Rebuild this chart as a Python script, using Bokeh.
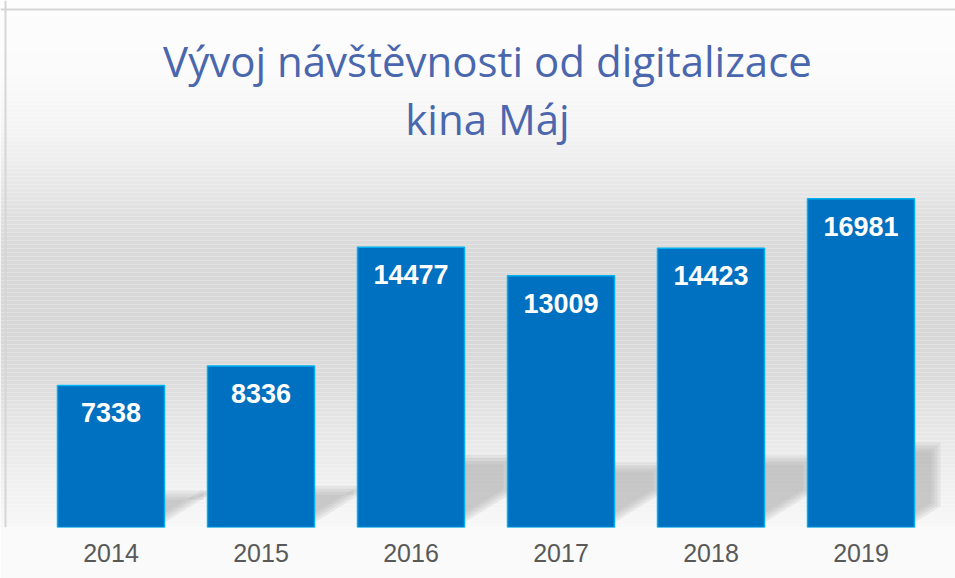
from bokeh.plotting import figure
from bokeh.models import Range1d, FixedTicker, BoxAnnotation, Label, Span
from bokeh.core.properties import value
from bokeh.embed import file_html
from bokeh.resources import INLINE

# ---- data ----
years = [2014, 2015, 2016, 2017, 2018, 2019]
visits = [7338, 8336, 14477, 13009, 14423, 16981]
value_labels = [str(v) for v in visits]
title_lines = ["Vývoj návštěvnosti od digitalizace", "kina Máj"]

# ---- layout ----
W, H = 955, 578
FRAME_H = 527
PX_PER_YEAR = 150.0
PX_PER_UNIT = 0.01936
x_start = years[0] - 110.5 / PX_PER_YEAR
x_end = x_start + W / PX_PER_YEAR
y_max = FRAME_H / PX_PER_UNIT
BAR_W = 107 / PX_PER_YEAR

p = figure(width=W, height=H, output_backend="svg", toolbar_location=None,
           x_range=Range1d(x_start, x_end), y_range=Range1d(0, y_max),
           y_axis_location=None, min_border_left=0, min_border_right=0,
           min_border_top=0, min_border_bottom=H - FRAME_H, title=None)
p.xgrid.visible = False
p.ygrid.visible = False
p.outline_line_color = None
p.background_fill_color = "#FCFCFC"
p.border_fill_color = "#FAFAFA"

# ---- background vertical gradient (decoration) ----
stops = [(0, 253), (70, 251), (130, 244), (170, 235), (200, 227), (250, 217),
         (330, 215), (380, 220), (420, 229), (460, 236), (500, 243), (527, 248)]
def grey_at(y):
    for (y0, g0), (y1, g1) in zip(stops[:-1], stops[1:]):
        if y0 <= y <= y1:
            return g0 + (g1 - g0) * (y - y0) / (y1 - y0)
    return stops[-1][1]
step = 4
for y in range(0, FRAME_H, step):
    g = int(round(grey_at(y + step / 2)))
    col = "#%02x%02x%02x" % (g, g, g)
    p.add_layout(BoxAnnotation(top=FRAME_H - y, bottom=max(FRAME_H - y - step, 0),
                               top_units="screen", bottom_units="screen",
                               fill_color=col, fill_alpha=1.0, line_color=None,
                               level="underlay"))

# ---- soft cast shadows of the bars (derived from the data, decoration) ----
SHADOW_RATIO = 0.0050 / PX_PER_UNIT      # shadow height relative to bar height
SHIFT_PX = 48                             # shadow reaches this far right of bar
CLIP_X = x_start + 940 / PX_PER_YEAR      # shadows end at the plot-area edge
BASE_PX, SLOPE = 5, 0.62                  # diagonal lower edge
for k in range(4):
    inset = 3 * k
    xs, ys = [], []
    for yr, v in zip(years, visits):
        xl = yr - BAR_W / 2
        xb = yr + BAR_W / 2
        xr = min(xb + (SHIFT_PX - inset) / PX_PER_YEAR, CLIP_X - inset / PX_PER_YEAR)
        run_px = (xr - xb) * PX_PER_YEAR
        y_b = (BASE_PX + inset) / PX_PER_UNIT
        y_r = (BASE_PX + inset + SLOPE * run_px) / PX_PER_UNIT
        top = v * SHADOW_RATIO - inset / PX_PER_UNIT
        xs.append([xl, xb, xr, xr, xl])
        ys.append([y_b, y_b, y_r, top, top])
    p.patches(xs=xs, ys=ys, fill_color="#999999", fill_alpha=0.15, line_color=None)

# ---- border lines ----
p.add_layout(Span(location=5, dimension="height", location_units="screen",
                  line_color="#D6D6D6", line_width=2))
p.add_layout(Span(location=FRAME_H - 9, dimension="width", location_units="screen",
                  line_color="#D6D6D6", line_width=2))

# ---- bars ----
p.vbar(x=years, top=visits, width=BAR_W, bottom=0,
       fill_color="#0070C0", line_color="#00B0F0", line_width=1.5)

p.text(x=years, y=visits, text=value_labels, text_align="center", text_baseline="top",
       y_offset=18, text_color="white", text_font=value("Liberation Sans"),
       text_font_size="27px", text_font_style="bold")

# ---- title ----
title_y = [467, 409]
for line, ty in zip(title_lines, title_y):
    p.add_layout(Label(x=487, y=ty, x_units="screen", y_units="screen", text=line,
                       text_align="center", text_baseline="alphabetic",
                       text_color="#4A67AE", text_font="Open Sans",
                       text_font_size="42px"))

# ---- axis ----
p.xaxis.ticker = FixedTicker(ticks=years)
p.xaxis.axis_line_color = None
p.xaxis.major_tick_line_color = None
p.xaxis.minor_tick_line_color = None
p.xaxis.major_label_standoff = 10
p.xaxis.major_label_text_font = "Liberation Sans"
p.xaxis.major_label_text_font_size = "25px"
p.xaxis.major_label_text_color = "#595959"

open("out.html", "w").write(file_html(p, INLINE))
